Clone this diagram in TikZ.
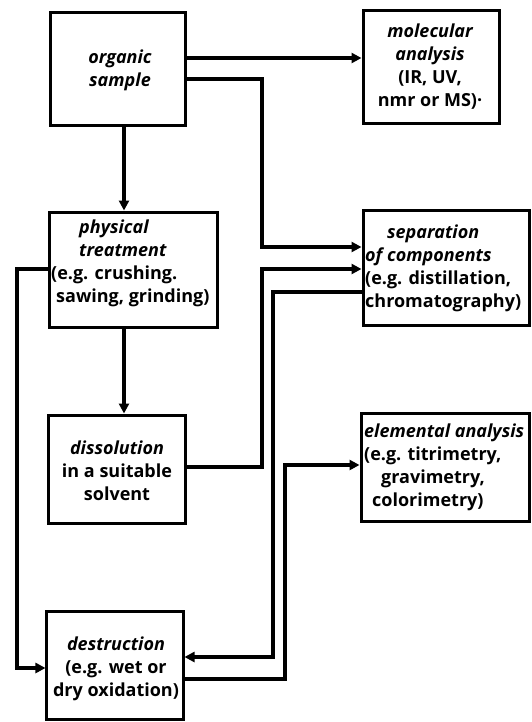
\documentclass[tikz,border=0pt]{standalone}
\usepackage{fontspec}
\setmainfont{Open Sans}
\usetikzlibrary{arrows.meta}
\begin{document}
\begin{tikzpicture}[x=1bp,y=-1bp,
  box/.style={draw, line width=3bp, rectangle, inner sep=0pt},
  txt/.style={font=\fontsize{18bp}{23bp}\selectfont\bfseries, inner sep=0pt},
  arr/.style={line width=3.4bp, -{Triangle[length=10bp,width=10bp]}}]
\useasboundingbox (0,0) rectangle (532,722);
% boxes
\node[box, minimum width=135bp, minimum height=112bp] (org) at (118,69) {};
\node[box, minimum width=136bp, minimum height=113bp] (mol) at (431,67) {};
\node[box, minimum width=167bp, minimum height=115bp] (phys) at (133.5,269.5) {};
\node[box, minimum width=166bp, minimum height=115bp] (sep) at (446,268) {};
\node[box, minimum width=136bp, minimum height=108bp] (diss) at (117,469) {};
\node[box, minimum width=168bp, minimum height=108bp] (elem) at (445,467) {};
\node[box, minimum width=136bp, minimum height=108bp] (dest) at (115,665) {};
% texts
\node[txt, align=center] (orgt) at (120,70) {\itshape organic\\\itshape sample};
\node[txt, align=center] (molt) at (430,67) {\itshape molecular\\\itshape analysis\\(IR, UV,\\nmr or MS)·};
\node[txt, align=left, anchor=west] (physt) at (51,263) {\hspace{28bp}\itshape physical\\\hspace{28bp}\itshape treatment\\(e.g. crushing.\\\hspace{5bp}sawing, grinding)};
\node[txt, align=left, anchor=west] (sept) at (365,268) {\hspace{22bp}\itshape separation\\\itshape of components\\(e.g. distillation,\\chromatography)};
\node[txt, align=center] (disst) at (117,471) {\itshape dissolution\\in a suitable\\solvent};
\node[txt, align=left, anchor=west] (elemt) at (364,467) {\itshape elemental analysis\\(e.g. titrimetry,\\\hspace{17bp}gravimetry,\\\hspace{8bp}colorimetry)};
\node[txt, align=center] (destt) at (116,669) {\itshape destruction\\(e.g. wet or\\dry oxidation)};
% connectors
\draw[arr] (org.east |- 0,58) -- (mol.west |- 0,58);
\draw[arr] (org.east |- 0,79) -- (262,79) |- (sep.west |- 0,247);
\draw[arr] (124,0 |- org.south) -- (124,0 |- phys.north);
\draw[arr] (124,0 |- phys.south) -- (124,0 |- diss.north);
\draw[arr] (phys.west |- 0,269) -- (17,269) |- (dest.west |- 0,668);
\draw[arr] (diss.east |- 0,467) -- (262,467) |- (sep.west |- 0,269);
\draw[arr] (sep.west |- 0,292) -- (273,292) |- (dest.east |- 0,657);
\draw[arr] (dest.east |- 0,679) -- (285,679) |- (elem.west |- 0,465);
\end{tikzpicture}
\end{document}
